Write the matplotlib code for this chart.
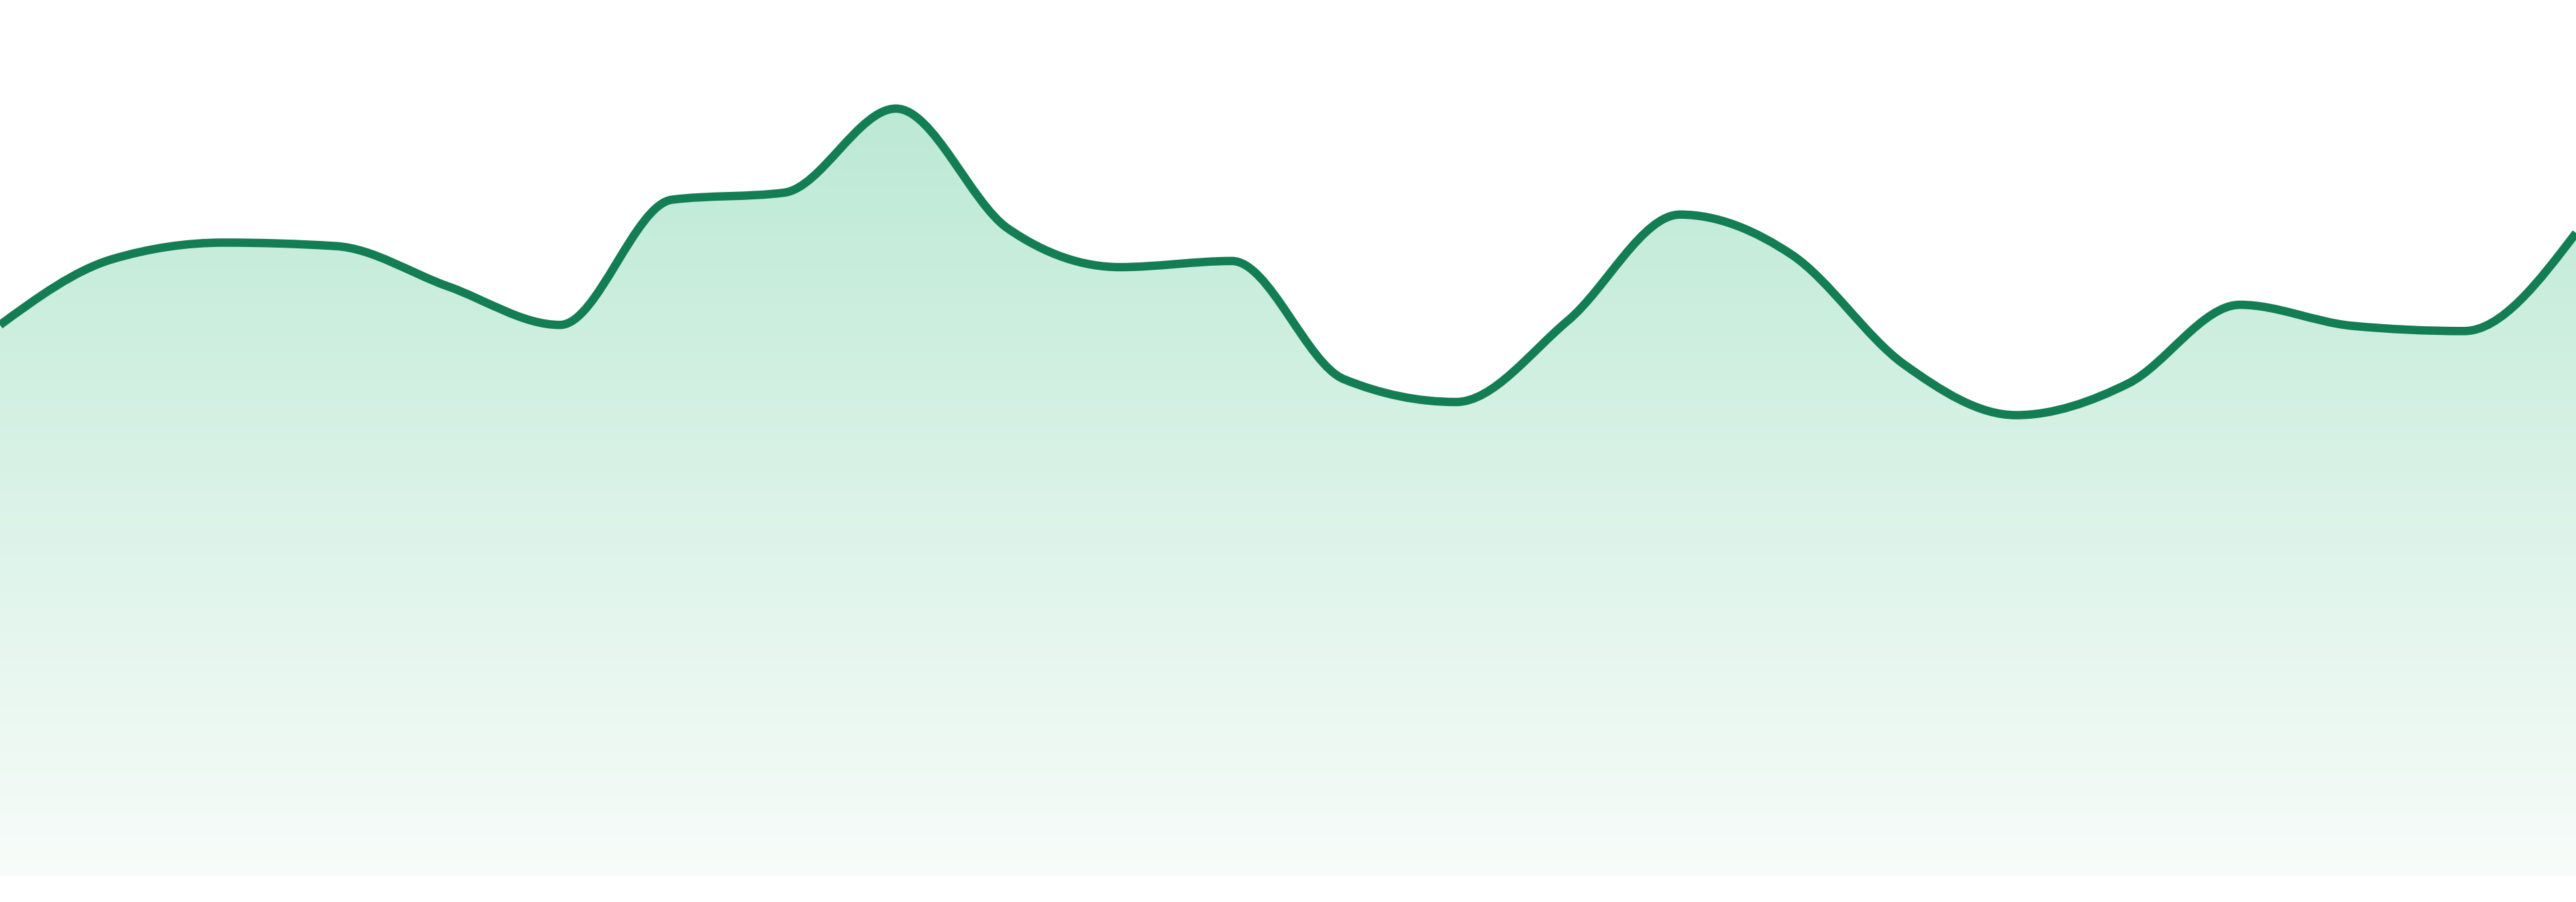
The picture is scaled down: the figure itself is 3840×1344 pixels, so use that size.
import numpy as np
import matplotlib
matplotlib.use("Agg")
import matplotlib.pyplot as plt
from matplotlib.path import Path
from matplotlib.patches import PathPatch

# ---- data (24 evenly spaced samples) ----
index = list(range(24))
values = [62.9, 70.4, 72.3, 71.9, 67.3, 62.9, 77.2, 78.0, 87.6, 73.9,
          69.5, 70.2, 56.7, 54.1, 63.4, 75.5, 70.9, 58.4, 52.6, 56.2,
          65.2, 62.8, 62.2, 73.4]

LINE_COLOR = "#137D53"
TOP_RGB = np.array([188, 233, 213]) / 255.0
BOT_RGB = np.array([248, 252, 250]) / 255.0


def monotone_bezier(xs, ys):
    """d3.curveMonotoneX as cubic bezier segments."""
    xs = np.asarray(xs, float)
    ys = np.asarray(ys, float)
    n = len(xs)
    h = np.diff(xs)
    s = np.diff(ys) / h
    t = np.zeros(n)
    for i in range(1, n - 1):
        s0, s1, h0, h1 = s[i - 1], s[i], h[i - 1], h[i]
        p = (s0 * h1 + s1 * h0) / (h0 + h1)
        t[i] = (np.sign(s0) + np.sign(s1)) * min(abs(s0), abs(s1), 0.5 * abs(p))
    t[0] = (3 * s[0] - t[1]) / 2
    t[-1] = (3 * s[-1] - t[-2]) / 2
    verts = [(xs[0], ys[0])]
    codes = [Path.MOVETO]
    for i in range(n - 1):
        dx = (xs[i + 1] - xs[i]) / 3
        verts += [(xs[i] + dx, ys[i] + dx * t[i]),
                  (xs[i + 1] - dx, ys[i + 1] - dx * t[i + 1]),
                  (xs[i + 1], ys[i + 1])]
        codes += [Path.CURVE4] * 3
    return verts, codes


W, H, DPI = 3840, 1344, 200
fig = plt.figure(figsize=(W / DPI, H / DPI), dpi=DPI)
fig.patch.set_facecolor("white")
ax = fig.add_axes([0, (H - 1305) / H, 1, 1305 / H])
ax.axis("off")

verts, codes = monotone_bezier(index, values)

# gradient-filled area under the curve
area_verts = verts + [(index[-1], 0), (index[0], 0), verts[0]]
area_codes = codes + [Path.LINETO, Path.LINETO, Path.CLOSEPOLY]
patch = PathPatch(Path(area_verts, area_codes), facecolor="none", edgecolor="none")
ax.add_patch(patch)

vmax = max(values)
grad = np.linspace(0, 1, 512)[:, None]
rgb = TOP_RGB[None, :] * (1 - grad) + BOT_RGB[None, :] * grad
img = np.repeat(rgb[:, None, :], 2, axis=1)
im = ax.imshow(img, extent=[index[0], index[-1], 0, vmax], origin="upper",
               aspect="auto", interpolation="bilinear", zorder=1)
im.set_clip_path(patch)

line = PathPatch(Path(verts, codes), facecolor="none", edgecolor=LINE_COLOR,
                 linewidth=12.5 * 72 / DPI, capstyle="butt", joinstyle="round", zorder=3)
ax.add_patch(line)
ax.set_xlim(index[0], index[-1])
ax.set_ylim(0, 100)

fig.savefig("out.png", dpi=DPI, facecolor="white")
